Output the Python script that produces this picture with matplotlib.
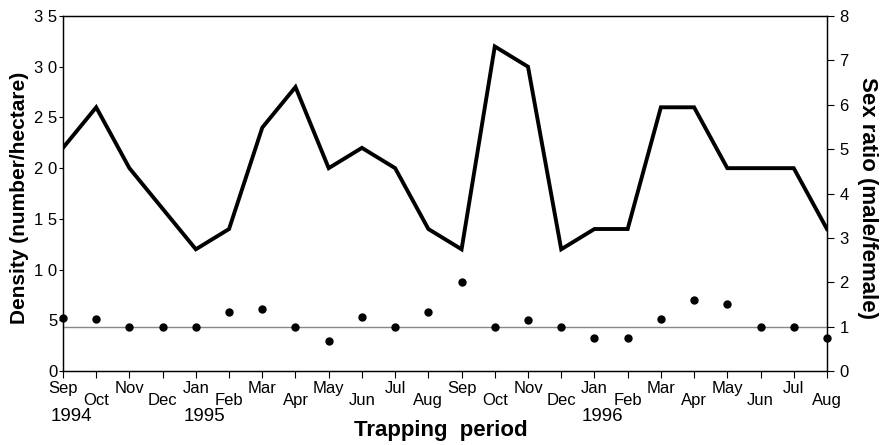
### Density and sex ratio over trapping periods
import matplotlib
matplotlib.use('Agg')
import matplotlib.pyplot as plt
import matplotlib.transforms as mtransforms

plt.rcParams['font.family'] = ['Liberation Sans', 'DejaVu Sans']

## Data
months = ['Sep', 'Oct', 'Nov', 'Dec', 'Jan', 'Feb', 'Mar', 'Apr', 'May', 'Jun', 'Jul', 'Aug',
          'Sep', 'Oct', 'Nov', 'Dec', 'Jan', 'Feb', 'Mar', 'Apr', 'May', 'Jun', 'Jul', 'Aug']
years = ['1994', '1995', '1996']
year_idx = [0, 4, 16]
density = [22, 26, 20, 16, 12, 14, 24, 28, 20, 22, 20, 14,
           12, 32, 30, 12, 14, 14, 26, 26, 20, 20, 20, 14]
sex_ratio = [1.19, 1.17, 1.0, 1.0, 1.0, 1.33, 1.4, 1.0, 0.68, 1.22, 1.0, 1.33,
             2.0, 1.0, 1.15, 1.0, 0.75, 0.75, 1.17, 1.6, 1.5, 1.0, 1.0, 0.75]
left_ticks = [0, 5, 10, 15, 20, 25, 30, 35]
right_ticks = [0, 1, 2, 3, 4, 5, 6, 7, 8]

x = list(range(len(months)))

## Figure and axes
fig = plt.figure(figsize=(8.82, 4.45), dpi=100)
ax = fig.add_axes([0.0714, 0.1663, 0.8662, 0.7977])
ax2 = ax.twinx()

## Density line
ax.plot(x, density, color='black', linewidth=2.8, solid_joinstyle='miter')
ax.set_xlim(0, len(months) - 1)
ax.set_ylim(0, 35)

## Sex ratio points and reference line
ax2.axhline(1, color='#888888', linewidth=1.0, zorder=1)
ax2.plot(x, sex_ratio, 'o', color='black', markersize=5, zorder=3, clip_on=False)
ax2.set_ylim(0, 8)

## Left axis ticks
ax.set_yticks(left_ticks)
ax.set_yticklabels([' '.join(str(t)) for t in left_ticks], fontsize=12)
ax.tick_params(axis='y', direction='out', length=3, pad=1, width=0.8)

## Right axis ticks
ax2.set_yticks(right_ticks)
ax2.set_yticklabels([str(t) for t in right_ticks], fontsize=12)
ax2.tick_params(axis='y', direction='out', length=5, pad=4, width=0.8)

## Bottom ticks, labels drawn by hand to stagger them
ax.set_xticks(x)
ax.set_xticklabels([])
ax.tick_params(axis='x', direction='out', length=5, width=0.8)
trans = mtransforms.blended_transform_factory(ax.transData, ax.transAxes)
for i, m in enumerate(months):
    off = -7 if i % 2 == 0 else -16
    ax.annotate(m, xy=(i, 0), xycoords=trans, xytext=(0, off), textcoords='offset points',
                ha='center', va='top', fontsize=12)
for yr, i in zip(years, year_idx):
    ax.annotate(yr, xy=(i, 0), xycoords=trans, xytext=(6, -27), textcoords='offset points',
                ha='center', va='top', fontsize=13.5)

for a in (ax, ax2):
    for s in a.spines.values():
        s.set_linewidth(0.9)

## Axis titles
fig.text(0.5, 0.008, 'Trapping  period', ha='center', va='bottom', fontsize=16, fontweight='bold')
fig.text(0.022, 0.555, 'Density (number/hectare)', ha='center', va='center', rotation=90,
         fontsize=15, fontweight='bold')
fig.text(0.983, 0.555, 'Sex ratio (male/female)', ha='center', va='center', rotation=270,
         fontsize=16, fontweight='bold')

fig.savefig('out.png', dpi=100)
